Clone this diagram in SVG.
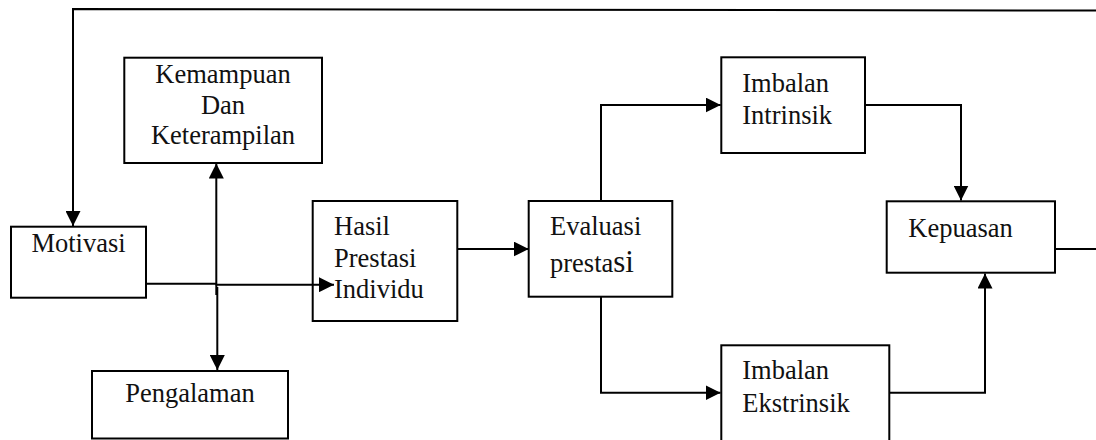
<svg xmlns="http://www.w3.org/2000/svg" width="1096" height="440" viewBox="0 0 1096 440">
<style>
.box{fill:#fff;stroke:#000;stroke-width:2}
.t{font-family:"Liberation Serif","Times New Roman",serif;font-size:26.5px;fill:#111}
.c{text-anchor:middle}
.ln{fill:none;stroke:#000;stroke-width:2}
</style>
<defs>
<marker id="ah" markerUnits="userSpaceOnUse" markerWidth="15" markerHeight="15" refX="15" refY="7.5" orient="auto" viewBox="0 0 15 15">
<path d="M0,0 L15,7.5 L0,15 z" fill="#000"/>
</marker>
</defs>
<g id="kemampuan">
<rect class="box" x="124.3" y="57.7" width="197.7" height="105.3"/>
<text class="t c" x="223" y="83.3">Kemampuan</text>
<text class="t c" x="223" y="114.3">Dan</text>
<text class="t c" x="223" y="144.3">Keterampilan</text>
</g>
<g id="motivasi">
<rect class="box" x="11" y="226.7" width="135" height="71"/>
<text class="t c" x="78.5" y="251.7">Motivasi</text>
</g>
<g id="pengalaman">
<rect class="box" x="92" y="371" width="196" height="67.5"/>
<text class="t c" x="190" y="402">Pengalaman</text>
</g>
<g id="hasil">
<rect class="box" x="312.7" y="201" width="144.6" height="120"/>
<text class="t" x="334" y="235">Hasil</text>
<text class="t" x="334" y="267.3">Prestasi</text>
<text class="t" x="334" y="298.3">Individu</text>
</g>
<g id="evaluasi">
<rect class="box" x="528.7" y="201" width="143.6" height="95.7"/>
<text class="t" x="550" y="235">Evaluasi</text>
<text class="t" x="550" y="271.7">presta<tspan style="font-size:31px">si</tspan></text>
</g>
<g id="intrinsik">
<rect class="box" x="721.3" y="57.3" width="143.7" height="95.7"/>
<text class="t" x="742.3" y="91.7">Imbalan</text>
<text class="t" x="742.3" y="124">Intrinsik</text>
</g>
<g id="kepuasan">
<rect class="box" x="886.7" y="201.3" width="168.3" height="71.4"/>
<text class="t" x="908.3" y="236.7">Kepuasan</text>
</g>
<g id="ekstrinsik">
<rect class="box" x="721.3" y="345.3" width="168" height="100"/>
<text class="t" x="742.3" y="379.3">Imbalan</text>
<text class="t" x="742.3" y="411.7">Ekstrinsik</text>
</g>
<g id="connectors">
<polyline class="ln" points="1096,10.5 73,9 73,226" marker-end="url(#ah)"/>
<line class="ln" x1="216.3" y1="295" x2="216.3" y2="163.5" marker-end="url(#ah)"/>
<line class="ln" x1="217.3" y1="287" x2="217.3" y2="370" marker-end="url(#ah)"/>
<polyline class="ln" points="146,283.7 216,283.7 216.5,284.7 334,284.7" marker-end="url(#ah)"/>
<line class="ln" x1="457.3" y1="249" x2="528.7" y2="249" marker-end="url(#ah)"/>
<polyline class="ln" points="601,201 601,105 720.7,105" marker-end="url(#ah)"/>
<polyline class="ln" points="865,105 961,105 961,200.5" marker-end="url(#ah)"/>
<polyline class="ln" points="601,296.7 601,392.7 720.5,392.7" marker-end="url(#ah)"/>
<polyline class="ln" points="889.3,392.7 985,392.7 985,273.5" marker-end="url(#ah)"/>
<line class="ln" x1="1055" y1="249" x2="1096" y2="249"/>
</g>
</svg>
